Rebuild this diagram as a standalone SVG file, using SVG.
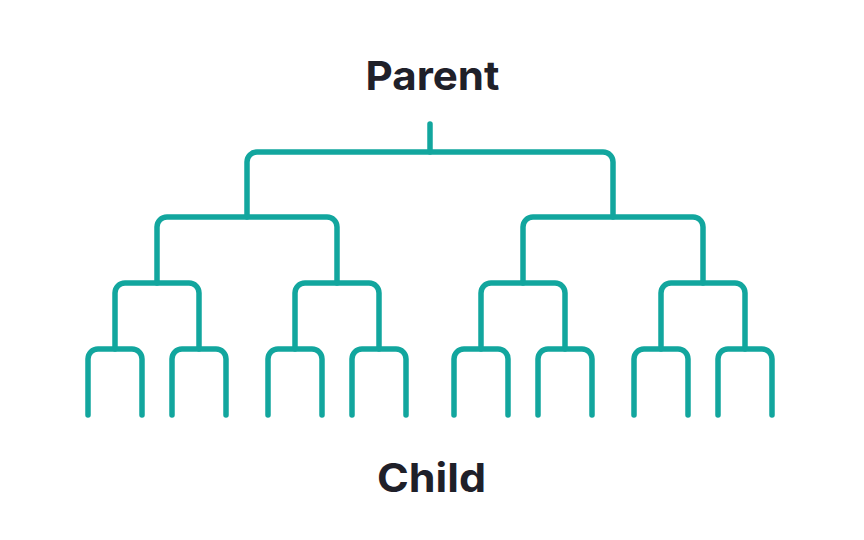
<svg xmlns="http://www.w3.org/2000/svg" width="864" height="540" viewBox="0 0 864 540">
<style>
.lbl{font-family:Inter,"Noto Sans","Liberation Sans",sans-serif;font-weight:700;font-size:40px;fill:#1f2029;text-anchor:middle}
.tree path{fill:none;stroke:#12a69e;stroke-width:5.5;stroke-linecap:round;stroke-linejoin:round}
</style>
<rect width="864" height="540" fill="#ffffff"/>
<g id="parent"><text class="lbl" x="432.5" y="90" textLength="134" lengthAdjust="spacingAndGlyphs">Parent</text></g>
<g id="child"><text class="lbl" x="431.5" y="492" textLength="109" lengthAdjust="spacingAndGlyphs">Child</text></g>
<g id="connectors" class="tree">
<path d="M430 124 V152"/>
<path d="M247 217 V162 A10 10 0 0 1 257 152 H603 A10 10 0 0 1 613 162 V217"/>
<path d="M157 283 V227 A10 10 0 0 1 167 217 H327 A10 10 0 0 1 337 227 V283"/>
<path d="M523 283 V227 A10 10 0 0 1 533 217 H693 A10 10 0 0 1 703 227 V283"/>
<path d="M115 349 V293 A10 10 0 0 1 125 283 H189 A10 10 0 0 1 199 293 V349"/>
<path d="M295 349 V293 A10 10 0 0 1 305 283 H369 A10 10 0 0 1 379 293 V349"/>
<path d="M481 349 V293 A10 10 0 0 1 491 283 H555 A10 10 0 0 1 565 293 V349"/>
<path d="M661 349 V293 A10 10 0 0 1 671 283 H735 A10 10 0 0 1 745 293 V349"/>
<path d="M88 415 V359 A10 10 0 0 1 98 349 H132 A10 10 0 0 1 142 359 V415"/>
<path d="M172 415 V359 A10 10 0 0 1 182 349 H216 A10 10 0 0 1 226 359 V415"/>
<path d="M268 415 V359 A10 10 0 0 1 278 349 H312 A10 10 0 0 1 322 359 V415"/>
<path d="M352 415 V359 A10 10 0 0 1 362 349 H396 A10 10 0 0 1 406 359 V415"/>
<path d="M454 415 V359 A10 10 0 0 1 464 349 H498 A10 10 0 0 1 508 359 V415"/>
<path d="M538 415 V359 A10 10 0 0 1 548 349 H582 A10 10 0 0 1 592 359 V415"/>
<path d="M634 415 V359 A10 10 0 0 1 644 349 H678 A10 10 0 0 1 688 359 V415"/>
<path d="M718 415 V359 A10 10 0 0 1 728 349 H762 A10 10 0 0 1 772 359 V415"/>
</g>
</svg>
